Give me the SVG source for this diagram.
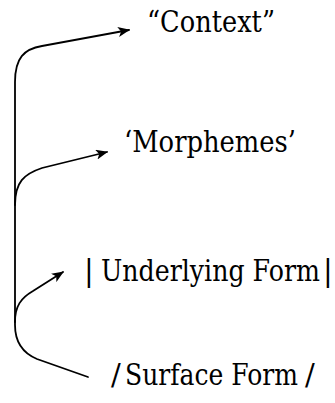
<svg xmlns="http://www.w3.org/2000/svg" width="335" height="403" viewBox="0 0 335 403">
<style>
.t{font-family:'DejaVu Serif','Liberation Serif','Times New Roman',serif;font-size:29px;fill:#000}
.c{fill:none;stroke:#000;stroke-width:1.8;stroke-linecap:round}
</style>
<defs>
<marker id="ah" viewBox="0 0 12 10" refX="11" refY="5" markerWidth="12" markerHeight="10" markerUnits="userSpaceOnUse" orient="auto">
<path d="M0,0 L12,5 L0,10 L3,5 Z" fill="#000"/>
</marker>
</defs>
<rect width="335" height="403" fill="#fff"/>
<g id="connectors">
<path class="c" d="M88,377 L37,359 C25,354 15,345 15,325 L15,82 C15,58 24,49 42,46 L129,30" marker-end="url(#ah)"/>
<path class="c" d="M15,205 C15,182 24,174 42,168 L107,152" marker-end="url(#ah)"/>
<path class="c" d="M15,322 C15,306 21,298 33,291 L63,272" marker-end="url(#ah)"/>
</g>
<g id="context"><text class="t" x="147" y="32" textLength="128" lengthAdjust="spacingAndGlyphs">“Context”</text></g>
<g id="morphemes"><text class="t" x="124" y="152" textLength="172" lengthAdjust="spacingAndGlyphs">‘Morphemes’</text></g>
<g id="underlying"><text class="t" y="281"><tspan x="84">|</tspan><tspan x="101" textLength="219" lengthAdjust="spacingAndGlyphs">Underlying Form</tspan><tspan x="323">|</tspan></text></g>
<g id="surface"><text class="t" y="385"><tspan x="111">/</tspan><tspan x="125" textLength="173" lengthAdjust="spacingAndGlyphs">Surface Form</tspan><tspan x="305">/</tspan></text></g>
</svg>
